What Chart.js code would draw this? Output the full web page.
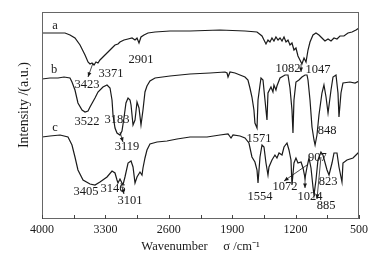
<!DOCTYPE html>
<html>
<head>
<meta charset="utf-8">
<script src="https://cdn.jsdelivr.net/npm/chart.js@4"></script>
<style>
  html, body { margin: 0; padding: 0; background: #fff; }
  #wrap { width: 390px; height: 260px; }
</style>
</head>
<body>
<div id="wrap"><canvas id="ftir"></canvas></div>
<script>
// spectrum a
const aWave = [4000, 3856, 3746, 3691, 3636, 3580, 3525, 3492, 3470, 3448, 3426, 3404, 3382, 3360, 3316, 3271, 3227, 3194, 3161, 3139, 3095, 3050, 3006, 2973, 2951, 2929, 2907, 2874, 2830, 2752, 2587, 2366, 2035, 1759, 1626, 1571, 1549, 1527, 1505, 1483, 1461, 1439, 1417, 1394, 1372, 1350, 1328, 1306, 1284, 1262, 1240, 1218, 1196, 1174, 1152, 1130, 1107, 1085, 1063, 1041, 1008, 975, 942, 909, 876, 842, 809, 776, 743, 710, 666, 622, 577, 533, 500];
const aInt = [186, 186, 186, 184, 181, 174, 164, 157, 155, 156, 154, 157, 156, 159, 163, 167, 171, 174, 175, 177, 179, 180, 181, 179, 181, 176, 182, 184, 186, 187, 188, 188, 189, 188, 187, 183, 179, 175, 179, 177, 181, 178, 182, 179, 181, 178, 182, 177, 179, 174, 176, 169, 171, 163, 159, 155, 161, 157, 169, 177, 184, 186, 184, 181, 178, 180, 178, 181, 180, 183, 183, 186, 187, 189, 191];

// spectrum b
const bWave = [4000, 3912, 3823, 3757, 3691, 3669, 3636, 3603, 3558, 3525, 3492, 3470, 3415, 3382, 3327, 3282, 3249, 3227, 3216, 3194, 3172, 3139, 3117, 3095, 3073, 3050, 3028, 3017, 2995, 2973, 2951, 2929, 2907, 2885, 2863, 2841, 2808, 2752, 2587, 2366, 2145, 1980, 1957, 1946, 1924, 1869, 1814, 1759, 1726, 1704, 1682, 1660, 1649, 1626, 1615, 1593, 1582, 1560, 1538, 1516, 1505, 1472, 1450, 1439, 1417, 1406, 1372, 1317, 1284, 1262, 1240, 1229, 1218, 1196, 1163, 1130, 1096, 1074, 1063, 1041, 1019, 997, 985, 964, 942, 909, 887, 864, 842, 809, 787, 754, 732, 721, 699, 677, 600, 544, 500];
const bInt = [140, 141, 141, 142, 141, 137, 129, 116, 109, 107, 108, 112, 121, 127, 132, 134, 131, 119, 104, 91, 86, 84, 88, 101, 116, 121, 119, 114, 94, 99, 117, 111, 94, 109, 127, 133, 138, 141, 143, 145, 146, 147, 146, 142, 147, 146, 144, 142, 139, 131, 122, 109, 96, 91, 119, 134, 141, 139, 119, 99, 126, 132, 127, 134, 129, 133, 141, 144, 144, 131, 109, 86, 119, 137, 139, 142, 144, 144, 139, 119, 92, 79, 74, 84, 104, 126, 134, 122, 106, 129, 142, 144, 126, 102, 126, 136, 137, 136, 138];

// spectrum c
const cWave = [4000, 3912, 3801, 3713, 3669, 3636, 3603, 3547, 3470, 3415, 3360, 3282, 3227, 3194, 3172, 3161, 3139, 3128, 3106, 3084, 3050, 3017, 2995, 2973, 2951, 2918, 2896, 2885, 2863, 2841, 2808, 2730, 2620, 2509, 2366, 2178, 2035, 1946, 1913, 1891, 1814, 1759, 1715, 1682, 1649, 1626, 1615, 1593, 1571, 1549, 1527, 1505, 1494, 1461, 1428, 1406, 1383, 1350, 1328, 1295, 1273, 1251, 1240, 1218, 1196, 1174, 1140, 1118, 1096, 1074, 1052, 1030, 1008, 997, 975, 953, 920, 898, 853, 831, 798, 776, 743, 721, 688, 677, 633, 566, 511, 500];
const cInt = [82, 83, 84, 82, 74, 62, 49, 39, 35, 34, 37, 42, 48, 46, 39, 36, 40, 38, 34, 42, 56, 58, 52, 36, 42, 47, 44, 51, 61, 69, 75, 77, 78, 80, 82, 82, 84, 85, 81, 84, 83, 81, 76, 62, 57, 49, 36, 62, 74, 72, 56, 44, 52, 59, 64, 61, 66, 64, 72, 76, 69, 59, 34, 56, 61, 56, 57, 51, 41, 52, 61, 51, 32, 24, 39, 59, 67, 64, 49, 44, 56, 66, 66, 52, 37, 56, 59, 61, 66, 67];

// x tick labels
const xTickLabels = [4000, 3300, 2600, 1900, 1200, 500];

// peak annotations: text, wavenumber, intensity
const noteText = ['a', 'b', 'c', '3423', '3371', '2901', '1082', '1047', '3522', '3183', '3119', '1571', '848', '3405', '3146', '3101', '1554', '1072', '1024', '885', '907', '823'];
const noteWave = [3856, 3867, 3856, 3503, 3238, 2907, 1284, 953, 3503, 3172, 3062, 1604, 853, 3514, 3216, 3028, 1593, 1317, 1041, 864, 960, 842];
const noteInt = [193, 149, 91, 134, 145, 159, 150, 149, 97, 99, 72, 80, 88, 27, 30, 18, 22, 32, 22, 13, 61, 37];

// arrows: from (wave, int) to (wave, int)
const arrowFromWave = [3437, 3139, 3128, 1074, 1096, 920, 1140];
const arrowFromInt = [156, 87, 36, 54, 44, 62, 155];
const arrowToWave = [3492, 3106, 3095, 1328, 1096, 964, 1140];
const arrowToInt = [142, 77, 25, 38, 31, 20, 147];

const serif = '"Liberation Serif", "Times New Roman", serif';
const ink = '#1a1a1a';

const toPoints = (w, v) => w.map((x, i) => ({ x, y: v[i] }));

const spectrumPlugin = {
  id: 'spectrumExtras',
  afterDraw(chart) {
    const { ctx, chartArea, scales } = chart;
    const xs = scales.x;
    const ys = scales.y;
    ctx.save();

    // frame
    ctx.strokeStyle = '#666';
    ctx.lineWidth = 1;
    ctx.strokeRect(chartArea.left + 0.5, chartArea.top + 0.5,
      chartArea.right - chartArea.left - 1, chartArea.bottom - chartArea.top - 1);

    // inward tick marks on the bottom axis
    ctx.strokeStyle = '#444';
    xs.ticks.forEach((t) => {
      const px = Math.round(xs.getPixelForValue(t.value)) + 0.5;
      ctx.beginPath();
      ctx.moveTo(px, chartArea.bottom);
      ctx.lineTo(px, chartArea.bottom - 4);
      ctx.stroke();
    });

    // y axis title, sitting a little above the middle like the original
    ctx.fillStyle = ink;
    ctx.font = '14px ' + serif;
    ctx.textAlign = 'center';
    ctx.textBaseline = 'middle';
    ctx.translate(chartArea.left - 18, chartArea.top + (chartArea.bottom - chartArea.top) * 0.45);
    ctx.rotate(-Math.PI / 2);
    ctx.fillText('Intensity /(a.u.)', 0, 0);
    ctx.setTransform(1, 0, 0, 1, 0, 0);

    // arrows
    ctx.strokeStyle = ink;
    ctx.fillStyle = ink;
    ctx.lineWidth = 0.8;
    arrowFromWave.forEach((fw, i) => {
      const x1 = xs.getPixelForValue(fw);
      const y1 = ys.getPixelForValue(arrowFromInt[i]);
      const x2 = xs.getPixelForValue(arrowToWave[i]);
      const y2 = ys.getPixelForValue(arrowToInt[i]);
      const ang = Math.atan2(y2 - y1, x2 - x1);
      ctx.beginPath();
      ctx.moveTo(x1, y1);
      ctx.lineTo(x2, y2);
      ctx.stroke();
      ctx.beginPath();
      ctx.moveTo(x2, y2);
      ctx.lineTo(x2 - 5 * Math.cos(ang - 0.4), y2 - 5 * Math.sin(ang - 0.4));
      ctx.lineTo(x2 - 5 * Math.cos(ang + 0.4), y2 - 5 * Math.sin(ang + 0.4));
      ctx.closePath();
      ctx.fill();
    });

    // peak labels
    ctx.font = '12.5px ' + serif;
    noteText.forEach((txt, i) => {
      ctx.fillText(txt, xs.getPixelForValue(noteWave[i]), ys.getPixelForValue(noteInt[i]));
    });
    ctx.restore();
  }
};

const lineStyle = {
  borderColor: ink,
  borderWidth: 1.2,
  pointRadius: 0,
  tension: 0,
  fill: false
};

new Chart(document.getElementById('ftir'), {
  type: 'line',
  data: {
    datasets: [
      { label: 'a', data: toPoints(aWave, aInt), ...lineStyle },
      { label: 'b', data: toPoints(bWave, bInt), ...lineStyle },
      { label: 'c', data: toPoints(cWave, cInt), ...lineStyle }
    ]
  },
  options: {
    responsive: true,
    maintainAspectRatio: false,
    animation: false,
    layout: { padding: { top: 12, right: 31, left: 0, bottom: 0 } },
    plugins: {
      legend: { display: false },
      tooltip: { enabled: false }
    },
    scales: {
      x: {
        type: 'linear',
        reverse: true,
        min: 500,
        max: 4000,
        grid: { display: false, drawTicks: false },
        border: { display: false },
        afterFit: (scale) => { scale.height = 41; },
        ticks: {
          stepSize: 350,
          autoSkip: false,
          maxRotation: 0,
          padding: 4,
          color: ink,
          font: { family: serif, size: 12 },
          callback: (v) => (xTickLabels.includes(v) ? String(v) : '')
        },
        title: {
          display: true,
          text: 'Wavenumber     σ /cm\u207B\u00B9',
          color: ink,
          font: { family: serif, size: 12.5 },
          padding: { top: 0, bottom: 6 }
        }
      },
      y: {
        min: 0,
        max: 207,
        grid: { display: false, drawTicks: false },
        border: { display: false },
        ticks: { display: false },
        afterFit: (scale) => { scale.width = 42; },
        title: { display: false }
      }
    }
  },
  plugins: [spectrumPlugin]
});
</script>
</body>
</html>
